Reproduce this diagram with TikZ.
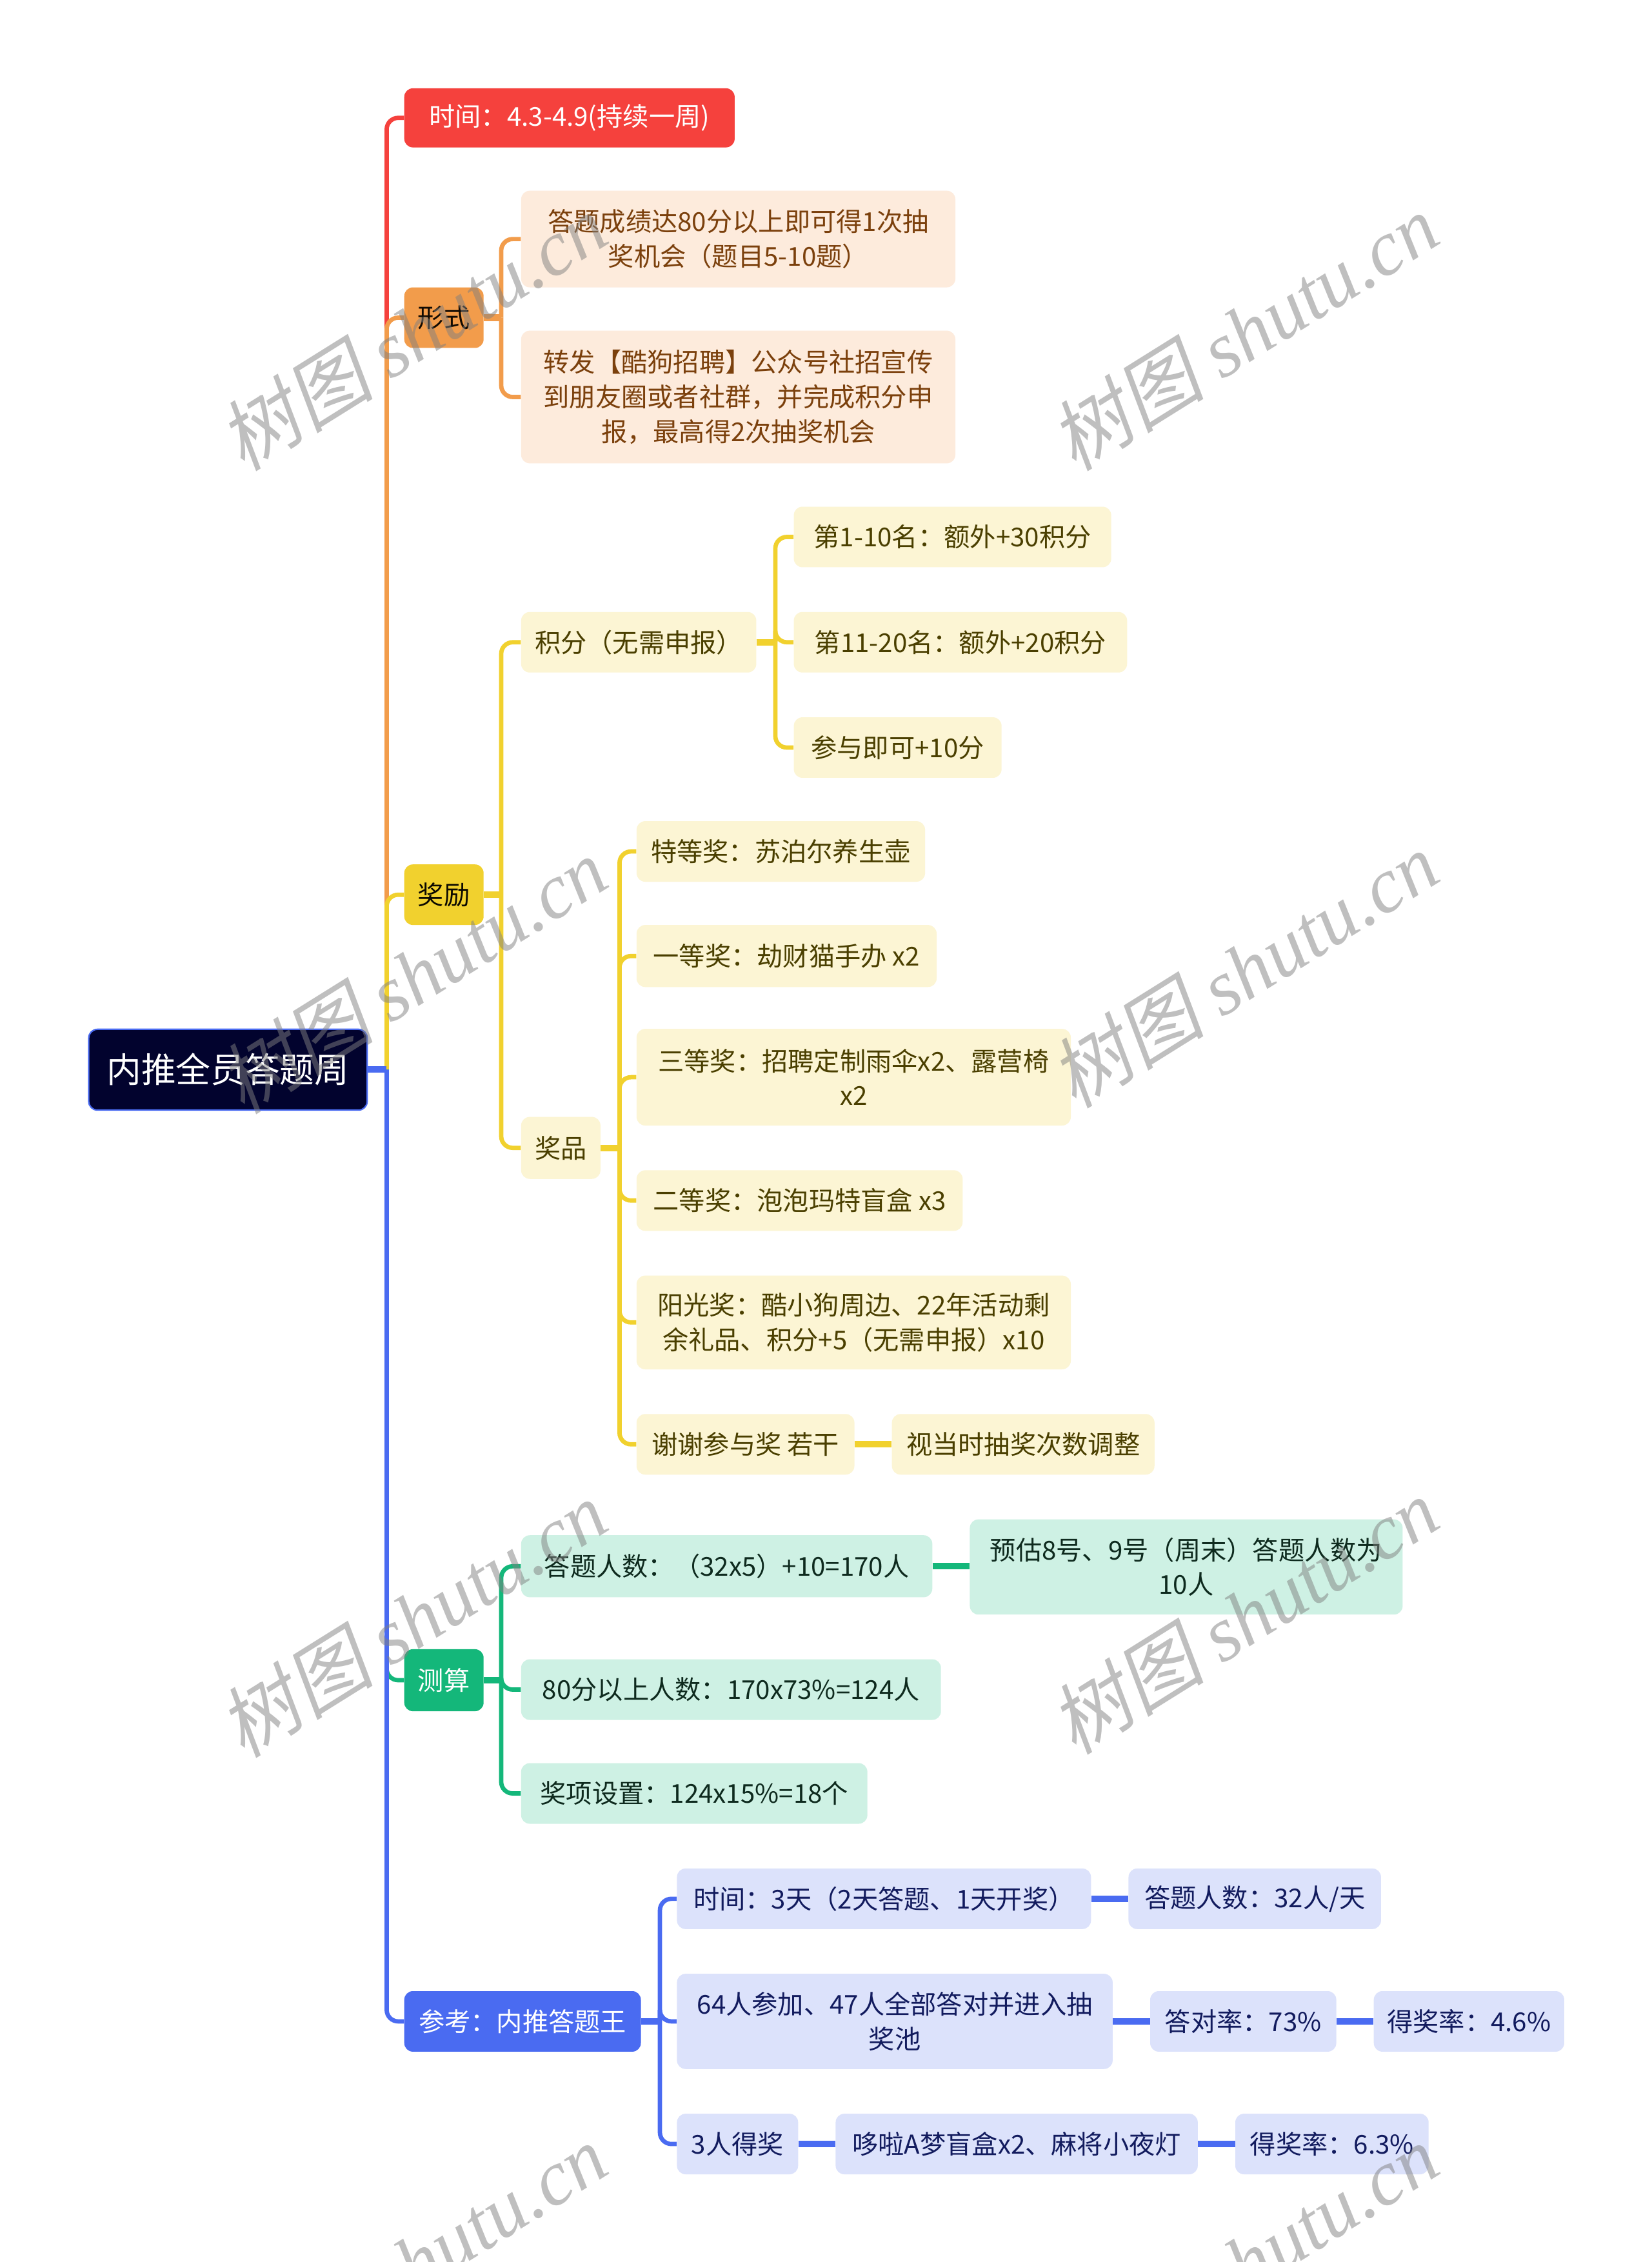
\documentclass[tikz,border=0pt]{standalone}
\usepackage{fontspec}
\setmainfont{Noto Sans CJK SC}
\newfontfamily\wmcjk[FakeSlant=0.2]{Noto Sans CJK SC}
\newfontfamily\wmlat{Liberation Serif}
\usetikzlibrary{calc}
\definecolor{cRoot}{HTML}{02032E}
\definecolor{cRed}{HTML}{F5413D}
\definecolor{cOrange}{HTML}{F29C4B}
\definecolor{cOrFill}{HTML}{FDEBDC}
\definecolor{cOrText}{HTML}{7B400C}
\definecolor{cYellow}{HTML}{F1D12E}
\definecolor{cYeFill}{HTML}{FCF5D4}
\definecolor{cYeText}{HTML}{4A3F00}
\definecolor{cGreen}{HTML}{14B77A}
\definecolor{cGrFill}{HTML}{CEF1E4}
\definecolor{cGrText}{HTML}{0E2A1E}
\definecolor{cBlue}{HTML}{4A6BF1}
\definecolor{cBlFill}{HTML}{DCE2FB}
\definecolor{cBlText}{HTML}{121B5E}
\begin{document}
\begin{tikzpicture}[x=1pt,y=-1pt,
  box/.style={rounded corners=6pt, anchor=north west, inner sep=0pt, align=center,
    font=\fontsize{18}{24}\selectfont},
  bx/.style n args={4}{box, at={(#1,#2)}, minimum width=#3pt, minimum height=#4pt},
  ore/.style={fill=cOrFill, text=cOrText},
  yel/.style={fill=cYeFill, text=cYeText},
  grn/.style={fill=cGrFill, text=cGrText},
  blu/.style={fill=cBlFill, text=cBlText},
  trunk/.style={line width=3pt, rounded corners=8pt},
  stub/.style={line width=4.5pt},
  wm/.style={rotate=32, text=black!50, text opacity=0.5, inner sep=0pt}]
\useasboundingbox (0,0) rectangle (1145,1568);
\fill[white] (0,0) rectangle (1145,1568);

% root
\node[bx={61}{713}{193}{56}, fill=cRoot, draw=cBlue, line width=1pt, text=white,
  font=\fontsize{24}{30}\selectfont] (root) {内推全员答题周};

% level 1
\node[bx={280}{61}{229}{41}, fill=cRed, text=white] (t) {时间：4.3-4.9(持续一周)};
\node[bx={280}{199}{55}{42}, fill=cOrange, text=black!85!cOrText] (f) {形式};
\node[bx={280}{599}{55}{42}, fill=cYellow, text=black!85!cYeText] (r) {奖励};
\node[bx={280}{1143}{55}{43}, fill=cGreen, text=white] (c) {测算};
\node[bx={280}{1380}{164}{42}, fill=cBlue, text=white] (p) {参考：内推答题王};

% 形式
\node[bx={361}{132}{301}{67}, ore] (f1) {答题成绩达80分以上即可得1次抽\\奖机会（题目5-10题）};
\node[bx={361}{229}{301}{92}, ore] (f2) {转发【酷狗招聘】公众号社招宣传\\到朋友圈或者社群，并完成积分申\\报，最高得2次抽奖机会};

% 奖励
\node[bx={361}{424}{163}{42}, yel] (r1) {积分（无需申报）};
\node[bx={550}{351}{220}{42}, yel] (r11) {第1-10名：额外+30积分};
\node[bx={550}{424}{231}{42}, yel] (r12) {第11-20名：额外+20积分};
\node[bx={550}{497}{144}{42}, yel] (r13) {参与即可+10分};
\node[bx={361}{774}{55}{43}, yel] (r2) {奖品};
\node[bx={441}{569}{200}{42}, yel] (r21) {特等奖：苏泊尔养生壶};
\node[bx={441}{641}{208}{43}, yel] (r22) {一等奖：劫财猫手办 x2};
\node[bx={441}{713}{301}{67}, yel] (r23) {三等奖：招聘定制雨伞x2、露营椅\\x2};
\node[bx={441}{811}{226}{42}, yel] (r24) {二等奖：泡泡玛特盲盒 x3};
\node[bx={441}{884}{301}{65}, yel] (r25) {阳光奖：酷小狗周边、22年活动剩\\余礼品、积分+5（无需申报）x10};
\node[bx={441}{980}{151}{42}, yel] (r26) {谢谢参与奖 若干};
\node[bx={618}{980}{182}{42}, yel] (r261) {视当时抽奖次数调整};

% 测算
\node[bx={361}{1064}{285}{43}, grn] (c1) {答题人数：（32x5）+10=170人};
\node[bx={672}{1053}{300}{66}, grn] (c11) {预估8号、9号（周末）答题人数为\\10人};
\node[bx={361}{1150}{291}{42}, grn] (c2) {80分以上人数：170x73\%=124人};
\node[bx={361}{1222}{240}{42}, grn] (c3) {奖项设置：124x15\%=18个};

% 参考
\node[bx={469}{1295}{287}{42}, blu] (p1) {时间：3天（2天答题、1天开奖）};
\node[bx={782}{1295}{175}{42}, blu] (p11) {答题人数：32人/天};
\node[bx={469}{1368}{302}{66}, blu] (p2) {64人参加、47人全部答对并进入抽\\奖池};
\node[bx={797}{1380}{129}{42}, blu] (p21) {答对率：73\%};
\node[bx={952}{1380}{132}{42}, blu] (p211) {得奖率：4.6\%};
\node[bx={469}{1465}{84}{42}, blu] (p3) {3人得奖};
\node[bx={579}{1465}{251}{42}, blu] (p31) {哆啦A梦盲盒x2、麻将小夜灯};
\node[bx={856}{1465}{134}{42}, blu] (p311) {得奖率：6.3\%};

% connectors
\coordinate (jRoot) at ($(root.east)+(13,0)$);
\foreach \n/\col in {t/cRed, f/cOrange, r/cYellow, c/cGreen, p/cBlue}
  \draw[trunk, \col] (jRoot) |- (\n.west);
\draw[stub, cBlue] (root.east) -- (jRoot);

\coordinate (jF) at ($(f.east)+(12,0)$);
\foreach \n in {f1,f2} \draw[trunk, cOrange] (jF) |- (\n.west);
\draw[stub, cOrange] (f.east) -- (jF);

\coordinate (jR) at ($(r.east)+(12,0)$);
\foreach \n in {r1,r2} \draw[trunk, cYellow] (jR) |- (\n.west);
\draw[stub, cYellow] (r.east) -- (jR);

\coordinate (jR1) at ($(r1.east)+(13,0)$);
\foreach \n in {r11,r12,r13} \draw[trunk, cYellow] (jR1) |- (\n.west);
\draw[stub, cYellow] (r1.east) -- (jR1);

\coordinate (jR2) at ($(r2.east)+(13,0)$);
\foreach \n in {r21,r22,r23,r24,r25,r26} \draw[trunk, cYellow] (jR2) |- (\n.west);
\draw[stub, cYellow] (r2.east) -- (jR2);
\draw[stub, cYellow] (r26.east) -- (r261.west |- r26.east);

\coordinate (jC) at ($(c.east)+(12,0)$);
\foreach \n in {c1,c2,c3} \draw[trunk, cGreen] (jC) |- (\n.west);
\draw[stub, cGreen] (c.east) -- (jC);
\draw[stub, cGreen] (c1.east) -- (c11.west |- c1.east);

\coordinate (jP) at ($(p.east)+(13,0)$);
\foreach \n in {p1,p2,p3} \draw[trunk, cBlue] (jP) |- (\n.west);
\draw[stub, cBlue] (p.east) -- (jP);
\draw[stub, cBlue] (p1.east) -- (p11.west |- p1.east);
\draw[stub, cBlue] (p2.east) -- (p21.west |- p2.east);
\draw[stub, cBlue] (p21.east) -- (p211.west |- p21.east);
\draw[stub, cBlue] (p3.east) -- (p31.west |- p3.east);
\draw[stub, cBlue] (p31.east) -- (p311.west |- p31.east);

% watermarks
\foreach \wx/\wy [count=\i] in {286/230, 862/230, 286/676, 862/672, 286/1122, 862/1120, 286/1568, 862/1568}
  \node[wm] (wm\i) at (\wx,\wy) {\fontsize{54}{54}\selectfont\wmcjk 树图 \wmlat\itshape shutu.cn};
\end{tikzpicture}
\end{document}
